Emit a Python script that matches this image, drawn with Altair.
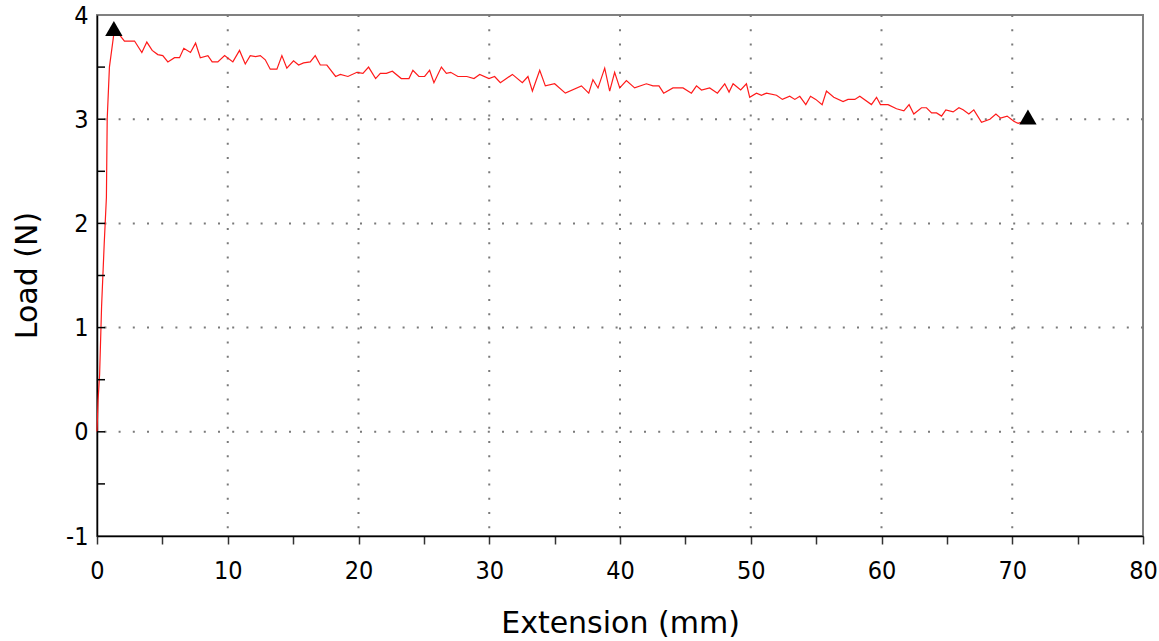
import altair as alt
import pandas as pd

# Load vs extension record (mm, N)
extension = [
    0.0, 0.08, 0.2, 0.35, 0.55, 0.72, 0.78, 0.95, 1.29,
    1.72, 2.10, 2.87, 3.43, 3.81, 4.22, 4.65, 5.03, 5.42, 5.93,
    6.31, 6.64, 7.15, 7.54, 7.90, 8.48, 8.81, 9.24, 9.76, 10.39,
    10.90, 11.34, 11.72, 12.13, 12.49, 12.87, 13.25, 13.76, 14.14, 14.52,
    15.03, 15.42, 15.80, 16.31, 16.69, 17.08, 17.58, 18.25, 18.61, 19.19,
    19.88, 20.34, 20.77, 21.31, 21.67, 22.13, 22.59, 23.27, 23.86, 24.16,
    24.62, 25.06, 25.44, 25.77, 26.34, 26.72, 27.05, 27.60, 28.29, 28.83,
    29.27, 29.98, 30.41, 30.85, 31.77, 32.53, 32.96, 33.30, 33.86, 34.29,
    35.00, 35.82, 37.05, 37.61, 37.93, 38.32, 38.83, 39.21, 39.59, 39.98,
    40.49, 41.12, 42.02, 42.52, 42.98, 43.34, 44.05, 44.82, 45.46, 45.85,
    46.23, 46.86, 47.45, 48.01, 48.34, 48.65, 49.23, 49.67, 49.92, 50.44,
    50.82, 51.20, 51.97, 52.42, 52.98, 53.37, 53.75, 54.21, 54.57, 54.97,
    55.46, 55.79, 56.35, 57.06, 57.44, 57.96, 58.34, 59.23, 59.62, 59.92,
    60.50, 61.15, 61.71, 62.11, 62.47, 63.06, 63.44, 63.83, 64.21, 64.59,
    64.92, 65.48, 65.92, 66.24, 66.68, 67.06, 67.65, 68.29, 68.75, 69.11,
    69.61, 70.12, 70.45, 70.66,
]
load = [
    0.0, 0.3, 0.55, 1.2, 1.8, 2.25, 3.0, 3.5, 3.82,
    3.81, 3.75, 3.75, 3.64, 3.74, 3.66, 3.62, 3.61, 3.55, 3.59,
    3.59, 3.68, 3.64, 3.73, 3.59, 3.61, 3.55, 3.55, 3.61, 3.55,
    3.66, 3.53, 3.61, 3.60, 3.61, 3.57, 3.48, 3.48, 3.61, 3.49,
    3.56, 3.52, 3.54, 3.55, 3.61, 3.52, 3.52, 3.41, 3.43, 3.41,
    3.45, 3.44, 3.50, 3.39, 3.44, 3.44, 3.46, 3.39, 3.39, 3.47,
    3.41, 3.41, 3.47, 3.35, 3.50, 3.44, 3.45, 3.41, 3.41, 3.39,
    3.43, 3.39, 3.41, 3.35, 3.43, 3.35, 3.41, 3.27, 3.47, 3.32,
    3.34, 3.25, 3.32, 3.25, 3.38, 3.30, 3.49, 3.27, 3.45, 3.30,
    3.37, 3.30, 3.34, 3.32, 3.32, 3.25, 3.30, 3.30, 3.25, 3.32,
    3.28, 3.30, 3.25, 3.34, 3.26, 3.34, 3.28, 3.34, 3.21, 3.25,
    3.23, 3.25, 3.23, 3.19, 3.22, 3.19, 3.22, 3.14, 3.22, 3.19,
    3.14, 3.27, 3.21, 3.17, 3.19, 3.19, 3.22, 3.14, 3.21, 3.14,
    3.14, 3.10, 3.08, 3.14, 3.05, 3.11, 3.11, 3.06, 3.06, 3.03,
    3.09, 3.07, 3.11, 3.09, 3.05, 3.09, 2.97, 3.00, 3.05, 3.01,
    3.03, 2.98, 2.96, 2.97,
]

# Peak and break markers
marker_ext = [1.29, 71.2]
marker_load = [3.87, 3.02]

# Axis furniture
x_ticks = [0, 5, 10, 15, 20, 25, 30, 35, 40, 45, 50, 55, 60, 65, 70, 75, 80]
x_grid = [10, 20, 30, 40, 50, 60, 70]
y_labels = [-1, 0, 1, 2, 3, 4]
y_grid = [0, 1, 2, 3]
y_minor = [-0.5, 0, 0.5, 1, 1.5, 2, 2.5, 3, 3.5]

FONT = "DejaVu Sans Condensed, DejaVu Sans"
TITLE_FONT = "DejaVu Sans"
xs = alt.Scale(domain=[0, 80], nice=False, zero=False)
ys = alt.Scale(domain=[-1, 4], nice=False, zero=False)

curve = pd.DataFrame({"ext": extension, "load": load})
markers = pd.DataFrame({"ext": marker_ext, "load": marker_load})

grid_style = dict(color="#7a7a7a", strokeWidth=2, strokeDash=[2, 12.2])

vgrid = alt.Chart(pd.DataFrame({"v": x_grid})).mark_rule(**grid_style).encode(
    x=alt.X("v:Q", scale=xs)
)
hgrid = alt.Chart(pd.DataFrame({"v": y_grid})).mark_rule(**grid_style).encode(
    y=alt.Y("v:Q", scale=ys)
)

line = alt.Chart(curve).mark_line(color="#ff1a1a", strokeWidth=1.2).encode(
    x=alt.X(
        "ext:Q",
        scale=xs,
        axis=alt.Axis(
            title="Extension (mm)",
            values=x_ticks,
            labelExpr="datum.value % 10 == 0 ? '' + datum.value : ''",
            grid=False,
            tickSize=8,
            tickColor="#333333",
            tickWidth=1.5,
            domainColor="#000000",
            domainWidth=1.5,
            labelFont=FONT,
            labelFontSize=25,
            labelColor="#000000",
            labelPadding=14,
            labelFlush=False,
            titleFont=TITLE_FONT,
            titleFontSize=30,
            titleFontWeight="normal",
            titleColor="#000000",
            titleBaseline="alphabetic",
            titleY=96,
        ),
    ),
    y=alt.Y(
        "load:Q",
        scale=ys,
        axis=alt.Axis(
            title="Load (N)",
            values=y_labels,
            labelExpr="'' + datum.value",
            grid=False,
            ticks=False,
            domainColor="#000000",
            domainWidth=1.5,
            labelFont=FONT,
            labelFontSize=25,
            labelColor="#000000",
            labelPadding=9,
            labelFlush=False,
            titleFont=TITLE_FONT,
            titleFontSize=30,
            titleFontWeight="normal",
            titleColor="#000000",
            titleBaseline="alphabetic",
            titleAlign="center",
            titleAngle=-90,
            titleX=-61,
            titleY=260,
        ),
    ),
    order="ext:Q",
)

inner_ticks = alt.Chart(pd.DataFrame({"v": y_minor})).mark_rule(
    color="#000000", strokeWidth=1.5
).encode(
    y=alt.Y("v:Q", scale=ys),
    x=alt.value(0),
    x2=alt.value(8),
)

tri = alt.Chart(markers).mark_point(
    shape="triangle-up", filled=True, color="#000000", size=300, opacity=1
).encode(
    x=alt.X("ext:Q", scale=xs),
    y=alt.Y("load:Q", scale=ys),
)

chart = (
    alt.layer(vgrid, hgrid, line, inner_ticks, tri)
    .properties(
        width=1046,
        height=521,
        padding={"left": 97, "top": 15, "right": 16, "bottom": 105},
        autosize=alt.AutoSizeParams(type="none"),
        background="#ffffff",
    )
    .configure_view(stroke="#808080", strokeWidth=2)
)

chart.save("out.html", embed_options={"renderer": "svg", "actions": False})
